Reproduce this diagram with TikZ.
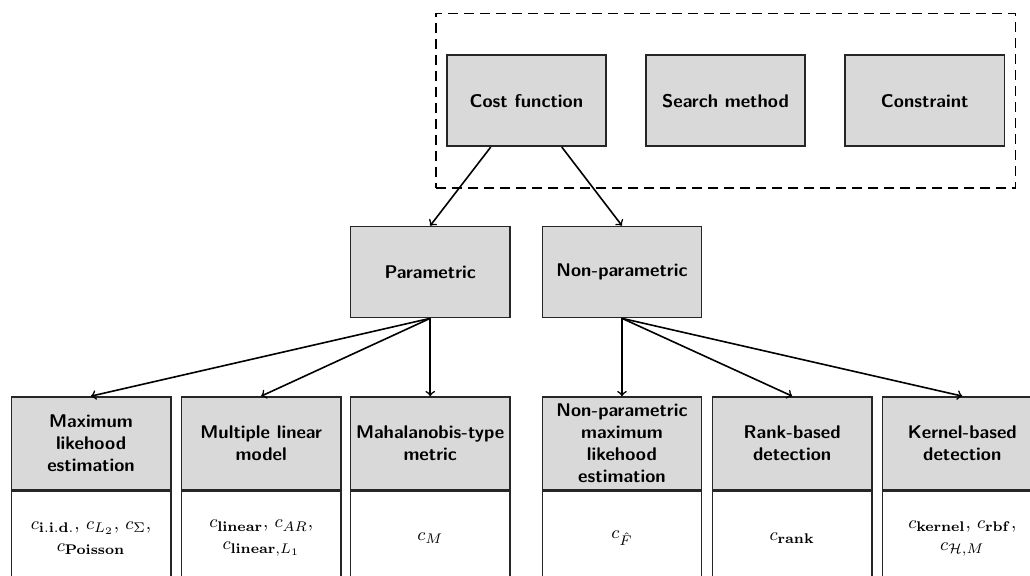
\documentclass[tikz,border=0pt]{standalone}
\usepackage{amsmath}
\usetikzlibrary{positioning,fit}

\begin{document}
\begin{tikzpicture}[>=to,
  box/.style={draw=black!85, line width=0.8pt, fill=black!15, rectangle, align=center,
    inner xsep=1pt, font=\sffamily\bfseries\fontsize{9.2}{11}\selectfont},
  topbox/.style={box, minimum width=2.8cm, minimum height=1.6cm},
  headbox/.style={box, minimum width=2.8cm, minimum height=1.63cm},
  bodybox/.style={draw=black!85, line width=0.8pt, fill=white, rectangle, align=center,
    minimum width=2.8cm, minimum height=1.65cm, font=\fontsize{9.5}{11}\selectfont},
  arr/.style={->, thick}]
\useasboundingbox (0,0) rectangle (18.10,10.12);

\node[topbox] (cost) at (9.25,8.35) {Cost function};
\node[topbox] (search) at (12.75,8.35) {Search method};
\node[topbox] (constr) at (16.25,8.35) {Constraint};
\node[draw, dash pattern=on 5pt off 3pt, line width=0.9pt, inner xsep=0.18cm, inner ysep=0.72cm, fit=(cost)(constr)] (frame) {};

\node[topbox] (param) at (7.56,5.34) {Parametric};
\node[topbox] (nonparam) at (10.93,5.34) {Non-parametric};

\node[headbox] (h1) at (1.60,2.33) {Maximum\\likehood\\estimation};
\node[headbox] (h2) at (4.59,2.33) {Multiple linear\\model};
\node[headbox] (h3) at (7.56,2.33) {Mahalanobis-type\\metric};
\node[headbox] (h4) at (10.93,2.33) {Non-parametric\\maximum\\likehood\\estimation};
\node[headbox] (h5) at (13.92,2.33) {Rank-based\\detection};
\node[headbox] (h6) at (16.91,2.33) {Kernel-based\\detection};

\node[bodybox, below=0pt of h1] (b1) {$c_{\mathbf{i.i.d.}}$, $c_{L_2}$, $c_{\Sigma}$,\\$c_{\mathbf{Poisson}}$};
\node[bodybox, below=0pt of h2] (b2) {$c_{\mathbf{linear}}$, $c_{AR}$,\\$c_{\mathbf{linear},L_1}$};
\node[bodybox, below=0pt of h3] (b3) {$c_{M}$};
\node[bodybox, below=0pt of h4] (b4) {$c_{\hat{F}}$};
\node[bodybox, below=0pt of h5] (b5) {$c_{\mathbf{rank}}$};
\node[bodybox, below=0pt of h6] (b6) {$c_{\mathbf{kernel}}$, $c_{\mathbf{rbf}}$,\\$c_{\mathcal{H},M}$};

\draw[arr] (cost) -- (param.north);
\draw[arr] (cost) -- (nonparam.north);
\draw[arr] (param.south) -- (h1.north);
\draw[arr] (param.south) -- (h2.north);
\draw[arr] (param.south) -- (h3.north);
\draw[arr] (nonparam.south) -- (h4.north);
\draw[arr] (nonparam.south) -- (h5.north);
\draw[arr] (nonparam.south) -- (h6.north);
\end{tikzpicture}
\end{document}
